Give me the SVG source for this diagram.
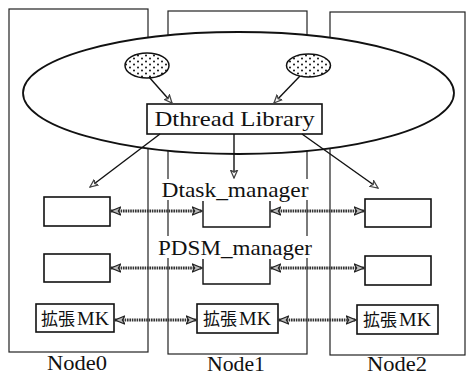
<svg xmlns="http://www.w3.org/2000/svg" width="468" height="376" viewBox="0 0 468 376">
<style>
.frame{fill:none;stroke:#222;stroke-width:1.2}
.box{fill:#fff;stroke:#111;stroke-width:1.6}
.t{font-family:'Liberation Serif',serif;fill:#111}
.cjk{font-family:'Noto Sans CJK JP',sans-serif}
.ln{stroke:#111;stroke-width:1.4;fill:none}
.dbl{stroke:#333;stroke-width:3;stroke-dasharray:1.6 0.8;fill:none}
</style>
<defs>
<pattern id="dots" width="8" height="6" patternUnits="userSpaceOnUse">
<rect width="8" height="6" fill="#fff"/>
<circle cx="2" cy="1.5" r="1" fill="#111"/>
<circle cx="6" cy="4.5" r="1" fill="#111"/>
</pattern>
<marker id="sa" viewBox="0 0 10 10" refX="9" refY="5" markerWidth="9" markerHeight="9" markerUnits="userSpaceOnUse" orient="auto">
<path d="M0,1 L9,5 L0,9 L2.5,5 Z" fill="#fff" stroke="#444" stroke-width="1.4"/>
</marker>
<marker id="da" viewBox="0 0 12 12" refX="11" refY="6" markerWidth="11" markerHeight="11" markerUnits="userSpaceOnUse" orient="auto-start-reverse">
<path d="M0,1.5 L11,6 L0,10.5 L3,6 Z" fill="#bbb" stroke="#222" stroke-width="1.3"/>
</marker>
</defs>
<rect width="468" height="376" fill="#fff"/>

<g id="node0">
<rect class="frame" x="9" y="9" width="139" height="343"/>
<rect class="box" x="44" y="197" width="66" height="29"/>
<rect class="box" x="44" y="254" width="66" height="28"/>
<rect class="box" x="36" y="304" width="78" height="28"/>
<text class="t" x="41" y="325" font-size="17"><tspan class="cjk">拡張</tspan><tspan x="77" textLength="32" lengthAdjust="spacingAndGlyphs" font-size="18">MK</tspan></text>
<text class="t" x="77" y="370" font-size="20" text-anchor="middle" textLength="60" lengthAdjust="spacingAndGlyphs">Node0</text>
</g>

<g id="node1">
<rect class="frame" x="168" y="11" width="139" height="343"/>
<rect x="160" y="179" width="152" height="21" fill="#fff"/>
<rect x="156" y="236" width="158" height="22" fill="#fff"/>
<text class="t" x="235" y="197" font-size="21" text-anchor="middle" textLength="147" lengthAdjust="spacingAndGlyphs">Dtask_manager</text>
<path class="ln" d="M203,201 V227 H270 V201"/>
<text class="t" x="235" y="255" font-size="21" text-anchor="middle" textLength="154" lengthAdjust="spacingAndGlyphs">PDSM_manager</text>
<path class="ln" d="M203,259 V284 H270 V259"/>
<rect class="box" x="197" y="304" width="81" height="29"/>
<text class="t" x="203" y="325" font-size="17"><tspan class="cjk">拡張</tspan><tspan x="239" textLength="32" lengthAdjust="spacingAndGlyphs" font-size="18">MK</tspan></text>
<text class="t" x="236" y="371" font-size="20" text-anchor="middle" textLength="58" lengthAdjust="spacingAndGlyphs">Node1</text>
</g>

<g id="node2">
<rect class="frame" x="330" y="12" width="135" height="343"/>
<rect class="box" x="365" y="199" width="66" height="28"/>
<rect class="box" x="365" y="256" width="66" height="29"/>
<rect class="box" x="357" y="305" width="81" height="29"/>
<text class="t" x="363" y="326" font-size="17"><tspan class="cjk">拡張</tspan><tspan x="399" textLength="32" lengthAdjust="spacingAndGlyphs" font-size="18">MK</tspan></text>
<text class="t" x="397" y="371" font-size="20" text-anchor="middle" textLength="60" lengthAdjust="spacingAndGlyphs">Node2</text>
</g>

<g id="dthread-space">
<ellipse cx="238.5" cy="93" rx="215.5" ry="61" fill="#fff" stroke="#111" stroke-width="1.8"/>
</g>

<g id="thread1">
<ellipse cx="147" cy="65.5" rx="22" ry="12.5" fill="url(#dots)" stroke="#111" stroke-width="1.5"/>
</g>
<g id="thread2">
<ellipse cx="308.5" cy="65.5" rx="22" ry="11.5" fill="url(#dots)" stroke="#111" stroke-width="1.5"/>
</g>

<g id="dthread-library">
<rect class="box" x="147" y="104" width="175" height="30"/>
<text class="t" x="234.5" y="126" font-size="22" text-anchor="middle" textLength="160" lengthAdjust="spacingAndGlyphs">Dthread Library</text>
</g>

<g id="connectors">
<line class="ln" x1="149" y1="77" x2="172" y2="103" marker-end="url(#sa)"/>
<line class="ln" x1="300" y1="76" x2="274" y2="103" marker-end="url(#sa)"/>
<line class="ln" x1="160" y1="134" x2="90" y2="187" marker-end="url(#sa)"/>
<line class="ln" x1="234" y1="134" x2="234" y2="178" marker-end="url(#sa)"/>
<line class="ln" x1="302" y1="134" x2="378" y2="188" marker-end="url(#sa)"/>
<line class="dbl" x1="111" y1="211" x2="202" y2="211" marker-start="url(#da)" marker-end="url(#da)"/>
<line class="dbl" x1="271" y1="211" x2="364" y2="211" marker-start="url(#da)" marker-end="url(#da)"/>
<line class="dbl" x1="111" y1="268" x2="202" y2="268" marker-start="url(#da)" marker-end="url(#da)"/>
<line class="dbl" x1="271" y1="268" x2="364" y2="268" marker-start="url(#da)" marker-end="url(#da)"/>
<line class="dbl" x1="115" y1="320" x2="196" y2="320" marker-start="url(#da)" marker-end="url(#da)"/>
<line class="dbl" x1="279" y1="320" x2="356" y2="320" marker-start="url(#da)" marker-end="url(#da)"/>
</g>
</svg>
